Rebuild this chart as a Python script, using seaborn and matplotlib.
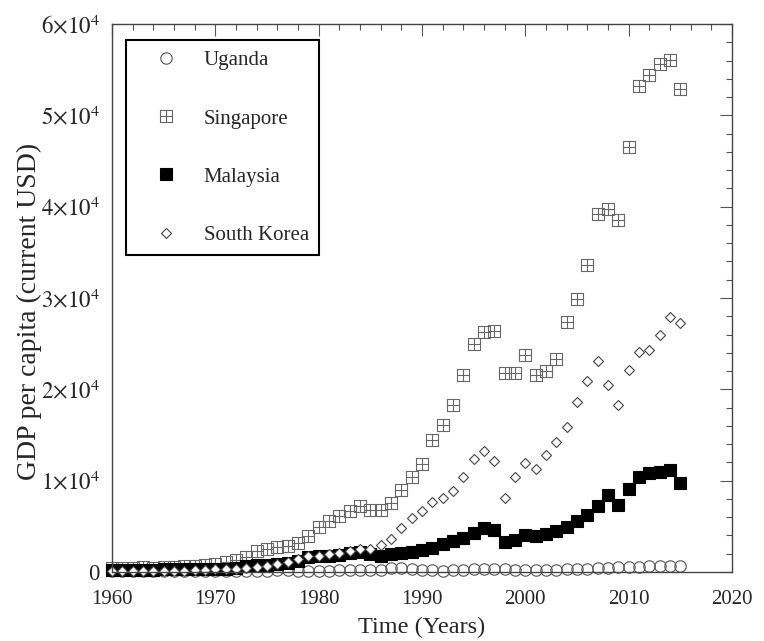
import numpy as np
import matplotlib
matplotlib.use("Agg")
import matplotlib.pyplot as plt
from matplotlib.path import Path
from matplotlib.ticker import MultipleLocator, FuncFormatter
import seaborn as sns
import pandas as pd

years = list(range(1960, 2016))

uganda = [62, 63, 63, 69, 77, 80, 83, 85, 88, 96,
          105, 112, 115, 126, 151, 164, 170, 180, 111, 100,
          97, 97, 222, 215, 249, 236, 250, 389, 434, 375,
          241, 175, 149, 169, 196, 275, 276, 279, 292, 256,
          257, 233, 233, 237, 287, 318, 343, 404, 471, 499,
          578, 570, 612, 643, 690, 615]

singapore = [428, 449, 472, 511, 485, 517, 567, 626, 708, 813,
             925, 1071, 1264, 1685, 2341, 2490, 2744, 2846, 3194, 3901,
             4928, 5596, 6078, 6633, 7228, 6785, 6800, 7539, 9021, 10394,
             11862, 14502, 16136, 18290, 21553, 24914, 26233, 26376, 21829, 21796,
             23793, 21577, 22017, 23320, 27405, 29870, 33580, 39224, 39721, 38578,
             46570, 53167, 54431, 55618, 56007, 52889]

malaysia = [235, 229, 240, 252, 267, 283, 294, 293, 300, 323,
            357, 375, 440, 661, 799, 764, 875, 1011, 1239, 1589,
            1775, 1770, 1852, 2049, 2234, 2000, 1729, 1941, 2074, 2222,
            2442, 2653, 3114, 3433, 3728, 4295, 4767, 4587, 3253, 3485,
            4044, 3913, 4166, 4462, 4963, 5587, 6210, 7243, 8475, 7292,
            9041, 10399, 10817, 10970, 11184, 9768]

korea = [156, 92, 104, 143, 121, 106, 130, 158, 194, 238,
         279, 299, 321, 405, 559, 615, 830, 1051, 1397, 1773,
         1778, 1968, 2081, 2268, 2464, 2542, 2913, 3640, 4814, 5867,
         6642, 7673, 8126, 8885, 10385, 12404, 13254, 12197, 8134, 10409,
         11948, 11253, 12789, 14209, 15908, 18640, 20888, 23061, 20431, 18292,
         22087, 24080, 24359, 25977, 27970, 27222]

labels = ["Uganda", "Singapore", "Malaysia", "South Korea"]

sns.set_style("white")
plt.rcParams["font.family"] = ["Liberation Serif", "DejaVu Serif"]
plt.rcParams["mathtext.fontset"] = "stix"

fig = plt.figure(figsize=(7.64, 6.41), dpi=100)
ax = fig.add_axes([112/764, (641-572)/641, 620/764, 548/641])

# custom "boxed plus" marker
verts = [(-0.5, -0.5), (0.5, -0.5), (0.5, 0.5), (-0.5, 0.5), (-0.5, -0.5),
         (0, -0.5), (0, 0.5), (-0.5, 0), (0.5, 0)]
codes = [Path.MOVETO, Path.LINETO, Path.LINETO, Path.LINETO, Path.LINETO,
         Path.MOVETO, Path.LINETO, Path.MOVETO, Path.LINETO]
box_plus = Path(verts, codes)

df = pd.DataFrame({"year": years, "Uganda": uganda, "Singapore": singapore,
                   "Malaysia": malaysia, "South Korea": korea})

styles = {
    "Uganda": dict(marker="o", markersize=8.2, markerfacecolor="none",
                   markeredgecolor="#555555", markeredgewidth=0.8),
    "Singapore": dict(marker=box_plus, markersize=8.0, markerfacecolor="none",
                      markeredgecolor="#666666", markeredgewidth=0.8),
    "Malaysia": dict(marker="s", markersize=8.0, markerfacecolor="black",
                     markeredgecolor="black", markeredgewidth=0.8),
    "South Korea": dict(marker="D", markersize=5.6, markerfacecolor="white",
                        markeredgecolor="#444444", markeredgewidth=0.8),
}

for name in labels:
    sns.lineplot(data=df, x="year", y=name, ax=ax, linestyle="", label=name,
                 color="black", clip_on=False, errorbar=None, **styles[name])

ax.set_xlim(1960, 2020)
ax.set_ylim(0, 60000)
ax.xaxis.set_major_locator(MultipleLocator(10))
ax.xaxis.set_minor_locator(MultipleLocator(2))
ax.yaxis.set_major_locator(MultipleLocator(10000))
ax.yaxis.set_minor_locator(MultipleLocator(2000))

def yfmt(v, pos):
    n = int(round(v / 10000))
    if n == 0:
        return "0"
    return r"$%d{\times}10^{4}$" % n

ax.yaxis.set_major_formatter(FuncFormatter(yfmt))

ax.tick_params(which="both", direction="in", top=True, right=True,
               color="#555555", width=0.8)
ax.tick_params(which="major", length=8.5)
ax.tick_params(which="minor", length=4.3)
ax.tick_params(axis="x", which="major", labelsize=15, pad=13)
ax.tick_params(axis="y", which="major", labelsize=16.5, pad=9)

for sp in ax.spines.values():
    sp.set_visible(True)
    sp.set_color("#444444")
    sp.set_linewidth(1.0)

ax.set_xlabel("Time (Years)", fontsize=17.5, labelpad=5.5)
ax.set_ylabel("GDP per capita (current USD)", fontsize=20)
ax.yaxis.set_label_coords(-0.113, 0.476)

leg = ax.legend(loc="upper left", bbox_to_anchor=(0.022, 0.970),
                borderaxespad=0, fontsize=15, labelspacing=1.85,
                handlelength=2.9, handletextpad=0.35, borderpad=0.5,
                fancybox=False, framealpha=1, edgecolor="black")
leg.get_frame().set_linewidth(1.5)

fig.savefig("out.png", dpi=100)
